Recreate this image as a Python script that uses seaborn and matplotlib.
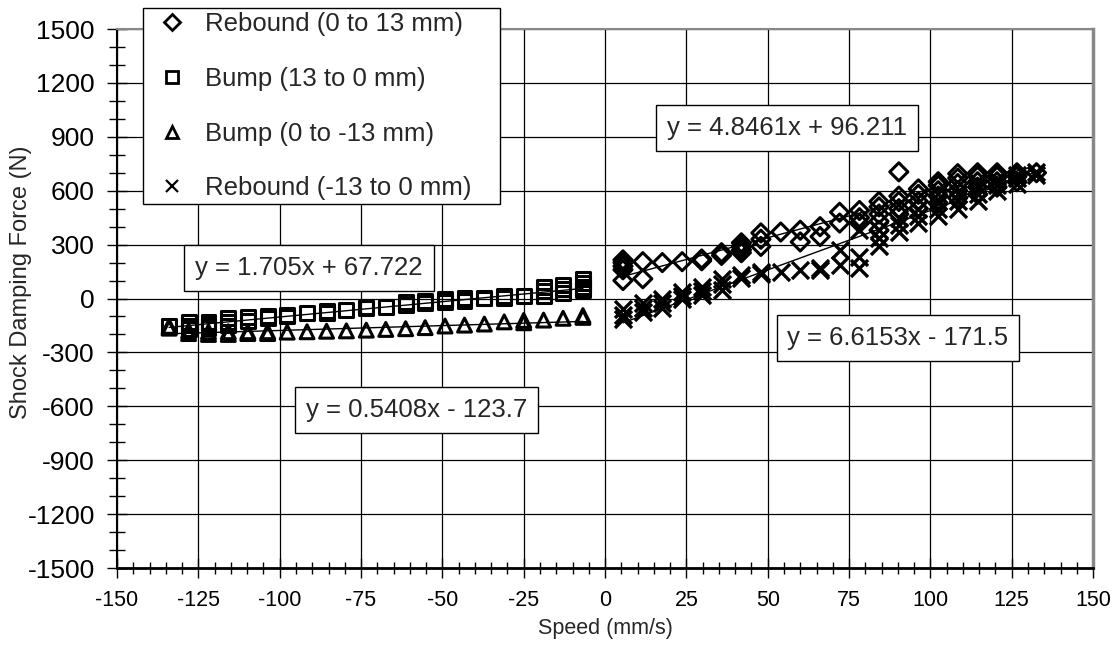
import matplotlib
matplotlib.use("Agg")
import matplotlib.pyplot as plt
from matplotlib.ticker import MultipleLocator
from matplotlib.lines import Line2D
import seaborn as sns
import pandas as pd
import numpy as np

# speeds (mm/s)
pos_speed = [5.5, 11.6, 17.6, 23.7, 29.7, 35.8, 41.9, 47.9, 54.0, 60.0, 66.1,
             72.1, 78.2, 84.2, 90.3, 96.3, 102.4, 108.4, 114.5, 120.5, 126.6, 132.6]
neg_speed = [-6.8, -12.9, -18.9, -25.0, -31.0, -37.1, -43.2, -49.2, -55.3, -61.3, -67.4,
             -73.4, -79.5, -85.6, -91.6, -97.7, -103.7, -109.8, -115.8, -121.9, -128.0, -134.0]

# forces (N) at each speed, several cycles per speed
rebound_pos = [[100, 160, 180, 200, 215], [110, 205], [200], [205], [210, 220], [240, 255],
               [255, 270, 290, 310], [290, 330, 365], [370], [315, 380], [345, 400],
               [420, 480], [420, 450, 490], [380, 430, 470, 510, 540], [470, 500, 540, 570, 705],
               [500, 540, 580, 610], [530, 570, 600, 630, 650], [560, 600, 640, 670, 695],
               [580, 620, 650, 680, 700], [620, 650, 680, 700], [650, 680, 700], [700]]
bump_pos = [[45, 65, 85, 110], [30, 55, 75], [15, 40, 65], [15], [5, 12], [0, 5], [-12, 5],
            [-20, -5], [-25, -12], [-35, -20], [-45], [-55, -50], [-65], [-80, -70], [-80],
            [-100, -90], [-110, -95], [-125, -105], [-150, -130, -110], [-165, -145, -130],
            [-170, -150, -130], [-155]]
bump_neg = [[-105, -95], [-110], [-120], [-135, -122], [-130], [-142], [-148], [-153], [-162],
            [-168], [-172], [-176], [-180], [-182], [-185], [-187], [-195, -185], [-195, -185],
            [-200, -185], [-200, -185], [-195, -180], [-165, -155]]
rebound_neg = [[-60, -90, -115], [-25, -50, -75], [0, -25, -50], [35, 15, -5], [65, 40, 20],
               [110, 80, 50], [130, 115], [150, 135], [150], [160], [170, 160], [270, 185],
               [380, 230, 170], [290, 335, 380], [370, 410, 450], [420, 460, 500],
               [460, 500, 540], [500, 540, 580], [540, 580, 620], [600, 630, 660],
               [640, 670, 690], [690, 705]]

labels = ["Rebound (0 to 13 mm)", "Bump (13 to 0 mm)", "Bump (0 to -13 mm)", "Rebound (-13 to 0 mm)"]
markers = ["D", "s", "^", "x"]
fit_slope = [4.8461, 1.705, 0.5408, 6.6153]
fit_icpt = [96.211, 67.722, -123.7, -171.5]
fit_text = ["y = 4.8461x + 96.211", "y = 1.705x + 67.722", "y = 0.5408x - 123.7", "y = 6.6153x - 171.5"]
fit_pos = [(56, 950), (-91, 170), (-58, -620), (90, -220)]


def flatten(speeds, forces):
    xs, ys = [], []
    for s, fl in zip(speeds, forces):
        for f in fl:
            xs.append(s)
            ys.append(f)
    return pd.DataFrame({"speed": xs, "force": ys})


series = [flatten(pos_speed, rebound_pos), flatten(neg_speed, bump_pos),
          flatten(neg_speed, bump_neg), flatten(pos_speed, rebound_neg)]

sns.set_style("white")
plt.rcParams["font.family"] = ["Liberation Sans", "DejaVu Sans"]
plt.rcParams["axes.unicode_minus"] = False

fig = plt.figure(figsize=(11.18, 6.46), dpi=100)
ax = fig.add_axes([0.1047, 0.1207, 0.8730, 0.8344])

sizes = [85, 100, 100, 150]
for df, m, sz in zip(series, markers, sizes):
    if m == "x":
        sns.scatterplot(data=df, x="speed", y="force", marker=m, color="black", s=sz,
                        linewidth=2.4, ax=ax, zorder=3)
    else:
        sns.scatterplot(data=df, x="speed", y="force", marker=m, color="black",
                        facecolor="none", edgecolor="black", s=sz, linewidth=2.2, ax=ax, zorder=3)

# trendlines
for df, a, b in zip(series, fit_slope, fit_icpt):
    xx = np.array([df["speed"].min(), df["speed"].max()])
    ax.plot(xx, a * xx + b, color="black", lw=1, zorder=4)

for (tx, ty), t in zip(fit_pos, fit_text):
    ax.text(tx, ty, t, fontsize=18.5, ha="center", va="center", zorder=6,
            bbox=dict(boxstyle="square,pad=0.42", fc="white", ec="black", lw=1))

ax.set_xlim(-150, 150)
ax.set_ylim(-1500, 1500)
ax.xaxis.set_major_locator(MultipleLocator(25))
ax.xaxis.set_minor_locator(MultipleLocator(5))
ax.yaxis.set_major_locator(MultipleLocator(300))
ax.yaxis.set_minor_locator(MultipleLocator(100))
ax.grid(True, which="major", color="black", lw=0.9)
ax.set_axisbelow(True)

ax.tick_params(axis="x", which="major", bottom=True, direction="inout", length=15, width=1,
               colors="black", labelsize=15.5, pad=8)
ax.tick_params(axis="x", which="minor", bottom=True, direction="inout", length=8, width=1,
               colors="black")
ax.tick_params(axis="y", which="major", left=True, direction="inout", length=14, width=1,
               colors="black", labelsize=19, pad=9)
ax.tick_params(axis="y", which="minor", left=True, direction="inout", length=12, width=1,
               colors="black")

ax.spines["left"].set_color("black")
ax.spines["left"].set_linewidth(1.5)
ax.spines["bottom"].set_color("black")
ax.spines["bottom"].set_linewidth(2)
ax.spines["right"].set_color("#888888")
ax.spines["right"].set_linewidth(2.5)
ax.spines["top"].set_color("#888888")
ax.spines["top"].set_linewidth(1.5)

ax.set_xlabel("Speed (mm/s)", fontsize=15.5, labelpad=5)
ax.set_ylabel("Shock Damping Force (N)", fontsize=17)
ax.yaxis.set_label_coords(-0.0871, 0.53)

handles = [Line2D([], [], ls="none", marker=m, color="black", mfc="none",
                  mec="black", ms=8 if m != "x" else 9, mew=2 if m != "x" else 1.6) for m in markers]
leg = ax.legend(handles, labels, loc="upper left", bbox_to_anchor=(0.0266, 0.68, 0.3658, 0.359),
                mode="expand", borderaxespad=0, fontsize=18.5, frameon=True, fancybox=False,
                edgecolor="black", framealpha=1, labelspacing=1.2, handletextpad=0.3,
                handlelength=1.95, borderpad=0.15)
leg.get_frame().set_linewidth(1)
leg.set_zorder(10)

fig.savefig("out.png", dpi=100)
